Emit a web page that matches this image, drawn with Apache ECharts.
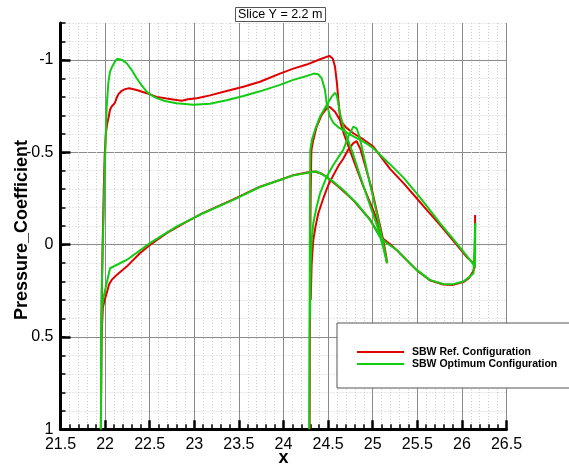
<!DOCTYPE html>
<html>
<head>
<meta charset="utf-8">
<script src="https://cdn.jsdelivr.net/npm/echarts@6/dist/echarts.min.js"></script>
<style>
  html, body { margin: 0; padding: 0; background: #fff; }
  #chart { width: 569px; height: 467px; }
</style>
</head>
<body>
<div id="chart"></div>
<script>
// Pressure coefficient along the slice, two configurations, [x, Cp] pairs.
const seriesNames = ['SBW Ref. Configuration', 'SBW Optimum Configuration'];

// Reference configuration
const refUpper1 = [
  [21.953, 1.0], [21.956, 0.6], [21.962, 0.3], [21.972, 0.0], [21.985, -0.3], [21.995, -0.48],
  [22.008, -0.6], [22.025, -0.66], [22.04, -0.69], [22.055, -0.73], [22.074, -0.748], [22.092, -0.756],
  [22.11, -0.768], [22.13, -0.795], [22.15, -0.815], [22.186, -0.833], [22.223, -0.842], [22.27, -0.847],
  [22.354, -0.837], [22.466, -0.82], [22.578, -0.8], [22.69, -0.791], [22.78, -0.785], [22.86, -0.779],
  [22.93, -0.787], [23.03, -0.793], [23.176, -0.808], [23.363, -0.832], [23.55, -0.855], [23.736, -0.882],
  [23.96, -0.926], [24.11, -0.953], [24.26, -0.975], [24.41, -1.004], [24.514, -1.022], [24.552, -1.008],
  [24.577, -0.964], [24.6, -0.87], [24.615, -0.783], [24.64, -0.66], [24.68, -0.595], [24.73, -0.53],
  [24.783, -0.46], [24.895, -0.315], [25.007, -0.185], [25.07, -0.1], [25.13, 0.02]
];
const refLower1 = [
  [21.953, 1.0], [21.96, 0.5], [21.975, 0.34], [21.995, 0.3], [22.018, 0.263], [22.045, 0.215],
  [22.074, 0.191], [22.13, 0.164], [22.242, 0.119], [22.39, 0.047], [22.503, 0.002], [22.69, -0.062],
  [22.9, -0.12], [23.1, -0.172], [23.437, -0.245], [23.736, -0.314], [23.96, -0.35], [24.11, -0.376],
  [24.26, -0.39], [24.35, -0.396], [24.43, -0.384], [24.52, -0.352], [24.633, -0.307], [24.783, -0.24],
  [24.97, -0.136], [25.08, -0.045], [25.19, -0.005], [25.27, 0.03], [25.343, 0.066], [25.493, 0.138],
  [25.64, 0.193], [25.79, 0.216], [25.9, 0.218], [26.016, 0.203], [26.08, 0.18], [26.12, 0.15],
  [26.145, 0.12], [26.148, -0.161]
];
const refUpper2 = [
  [24.292, 1.0], [24.295, 0.5], [24.3, 0.0], [24.305, -0.3], [24.312, -0.5], [24.316, -0.52],
  [24.334, -0.567], [24.372, -0.639], [24.428, -0.702], [24.484, -0.738], [24.52, -0.745], [24.577, -0.72],
  [24.633, -0.675], [24.7, -0.635], [24.783, -0.603], [24.9, -0.568], [25.007, -0.531], [25.194, -0.41],
  [25.35, -0.33], [25.493, -0.251], [25.62, -0.18], [25.754, -0.107], [25.94, 0.0], [26.06, 0.07],
  [26.13, 0.101], [26.14, 0.12]
];
const refLower2 = [
  [24.305, 0.3], [24.316, 0.1], [24.334, -0.025], [24.36, -0.1], [24.39, -0.17], [24.446, -0.25],
  [24.5, -0.32], [24.558, -0.375], [24.62, -0.43], [24.67, -0.465], [24.72, -0.51], [24.783, -0.55],
  [24.82, -0.56], [24.86, -0.52], [24.92, -0.42], [24.99, -0.3], [25.06, -0.15], [25.12, -0.02],
  [25.15, 0.06], [25.163, 0.101]
];

// Optimum configuration
const optUpper1 = [
  [21.953, 1.0], [21.956, 0.6], [21.962, 0.25], [21.975, 0.0], [21.99, -0.3], [22.005, -0.55],
  [22.018, -0.75], [22.036, -0.874], [22.055, -0.937], [22.08, -0.965], [22.111, -0.991], [22.135, -1.006],
  [22.157, -1.012], [22.19, -1.0], [22.242, -0.982], [22.3, -0.944], [22.354, -0.901], [22.41, -0.862],
  [22.466, -0.828], [22.522, -0.808], [22.578, -0.793], [22.67, -0.778], [22.8, -0.766], [22.99, -0.757],
  [23.176, -0.763], [23.363, -0.782], [23.55, -0.805], [23.736, -0.83], [23.96, -0.865], [24.11, -0.892],
  [24.26, -0.913], [24.34, -0.926], [24.39, -0.922], [24.428, -0.901], [24.465, -0.838], [24.484, -0.766],
  [24.521, -0.693], [24.558, -0.66], [24.614, -0.636], [24.708, -0.606], [24.82, -0.576], [24.933, -0.547],
  [25.007, -0.522], [25.19, -0.437], [25.35, -0.36], [25.493, -0.278], [25.62, -0.2], [25.754, -0.116],
  [25.94, -0.008], [26.09, 0.083], [26.147, 0.119], [26.15, -0.116]
];
const optLower1 = [
  [21.953, 1.0], [21.957, 0.5], [21.965, 0.35], [21.98, 0.29], [22.055, 0.128], [22.15, 0.105],
  [22.242, 0.083], [22.503, -0.008], [22.8, -0.097], [23.1, -0.17], [23.437, -0.242], [23.736, -0.312],
  [23.96, -0.35], [24.11, -0.375], [24.26, -0.388], [24.334, -0.395], [24.372, -0.396], [24.446, -0.378],
  [24.558, -0.341], [24.67, -0.296], [24.82, -0.224], [24.97, -0.134], [25.08, -0.043], [25.157, -0.008],
  [25.27, 0.029], [25.343, 0.065], [25.493, 0.137], [25.64, 0.191], [25.79, 0.213], [25.9, 0.214],
  [26.016, 0.2], [26.09, 0.173], [26.13, 0.155], [26.152, 0.153], [26.15, -0.116]
];
const optUpper2 = [
  [24.289, 1.0], [24.292, 0.5], [24.295, 0.0], [24.297, -0.3], [24.3, -0.512], [24.32, -0.57],
  [24.353, -0.621], [24.41, -0.694], [24.484, -0.756], [24.54, -0.801], [24.577, -0.822], [24.596, -0.81],
  [24.614, -0.766], [24.633, -0.711], [24.67, -0.639], [24.708, -0.585], [24.764, -0.513], [24.86, -0.37],
  [24.95, -0.24], [25.05, -0.1], [25.12, 0.02], [25.16, 0.1]
];
const optLower2 = [
  [24.297, 0.4], [24.305, 0.1], [24.316, -0.025], [24.334, -0.116], [24.372, -0.206], [24.41, -0.278],
  [24.484, -0.368], [24.558, -0.431], [24.633, -0.486], [24.67, -0.513], [24.726, -0.585], [24.783, -0.639],
  [24.8, -0.645], [24.82, -0.63], [24.84, -0.603], [24.877, -0.531], [24.95, -0.37], [25.05, -0.16],
  [25.12, 0.0], [25.16, 0.1]
];

const refColor = '#e00000';
const optColor = '#12cc12';
const FONT = '"Liberation Sans", Arial, Helvetica, sans-serif';

function curve(name, color, data) {
  return {
    name: name,
    type: 'line',
    xAxisIndex: 0,
    yAxisIndex: 0,
    data: data,
    symbol: 'none',
    smooth: false,
    animation: false,
    lineStyle: { color: color, width: 2 },
    itemStyle: { color: color },
    z: 3
  };
}

const chart = echarts.init(document.getElementById('chart'), null, { renderer: 'canvas' });

const plotLeft = 60.5, plotWidth = 446, plotTop = 23, plotHeight = 406.3;
const pxPerUnit = plotHeight / 2.2;

chart.setOption({
  animation: false,
  backgroundColor: '#fff',
  title: {
    text: 'Slice Y = 2.2 m',
    left: 235,
    top: 7,
    padding: [1, 3, 1, 3],
    borderColor: '#555',
    borderWidth: 1,
    textStyle: { fontFamily: FONT, fontSize: 12.5, fontWeight: 'normal', color: '#000' }
  },
  legend: {
    data: seriesNames,
    orient: 'vertical',
    left: 337,
    top: 323,
    icon: 'rect',
    itemWidth: 47,
    itemHeight: 2,
    itemGap: 0,
    padding: [23, 80, 18, 20],
    borderColor: '#555',
    borderWidth: 1,
    backgroundColor: '#fff',
    selectedMode: false,
    textStyle: { fontFamily: FONT, fontWeight: 'bold', fontSize: 10.5, lineHeight: 12, color: '#000', padding: [0, 0, 0, 3] }
  },
  grid: [
    { left: plotLeft, top: plotTop, width: plotWidth, height: plotHeight, containLabel: false, outerBoundsMode: 'none' },
    { left: plotLeft, top: plotTop + 0.2 * pxPerUnit, width: plotWidth, height: plotHeight - 0.2 * pxPerUnit, containLabel: false, outerBoundsMode: 'none' }
  ],
  xAxis: [
    {
      type: 'value', gridIndex: 0, min: 21.5, max: 26.5, interval: 0.5,
      name: 'x', nameLocation: 'middle', nameGap: 20, nameMoveOverlap: false,
      nameTextStyle: { fontFamily: FONT, fontSize: 18, fontWeight: 'bold', color: '#000' },
      axisLine: { show: true, onZero: false, lineStyle: { color: '#000', width: 3 } },
      axisTick: { show: true, inside: true, length: 9, lineStyle: { color: '#000', width: 2.5 } },
      minorTick: { show: true, splitNumber: 5, length: 5, lineStyle: { color: '#000', width: 1.5 } },
      axisLabel: { fontFamily: FONT, fontSize: 16, color: '#000', margin: 7 },
      splitLine: { show: true, lineStyle: { color: '#8a8a8a', width: 1 } },
      minorSplitLine: { show: true, lineStyle: { color: '#cfcfcf', width: 1, type: [1, 2] } }
    },
    {
      type: 'value', gridIndex: 1, min: 21.5, max: 26.5, interval: 0.5, show: false
    }
  ],
  yAxis: [
    {
      type: 'value', gridIndex: 0, min: -1.2, max: 1, interval: 0.1, inverse: true,
      axisLine: { show: true, onZero: false, lineStyle: { color: '#000', width: 3 } },
      axisTick: { show: true, inside: true, length: 5, lineStyle: { color: '#000', width: 1.5 } },
      axisLabel: { show: false },
      splitLine: { show: true, lineStyle: { color: '#cfcfcf', width: 1, type: [1, 2] } }
    },
    {
      type: 'value', gridIndex: 1, min: -1, max: 1, interval: 0.5, inverse: true,
      axisLine: { show: false, onZero: false },
      axisTick: { show: true, inside: true, length: 10, lineStyle: { color: '#000', width: 2.5 } },
      axisLabel: { fontFamily: FONT, fontSize: 16, color: '#000', margin: 7 },
      splitLine: { show: true, lineStyle: { color: '#8a8a8a', width: 1 } }
    }
  ],
  graphic: [
    {
      type: 'text',
      x: 22,
      y: 230,
      rotation: Math.PI / 2,
      style: {
        text: 'Pressure_Coefficient',
        fontFamily: FONT,
        fontSize: 18,
        fontWeight: 'bold',
        fill: '#000',
        align: 'center',
        verticalAlign: 'middle'
      }
    }
  ],
  series: [
    curve(seriesNames[0], refColor, refUpper1),
    curve(seriesNames[0], refColor, refLower1),
    curve(seriesNames[0], refColor, refUpper2),
    curve(seriesNames[0], refColor, refLower2),
    curve(seriesNames[1], optColor, optUpper1),
    curve(seriesNames[1], optColor, optLower1),
    curve(seriesNames[1], optColor, optUpper2),
    curve(seriesNames[1], optColor, optLower2)
  ]
});
</script>
</body>
</html>
